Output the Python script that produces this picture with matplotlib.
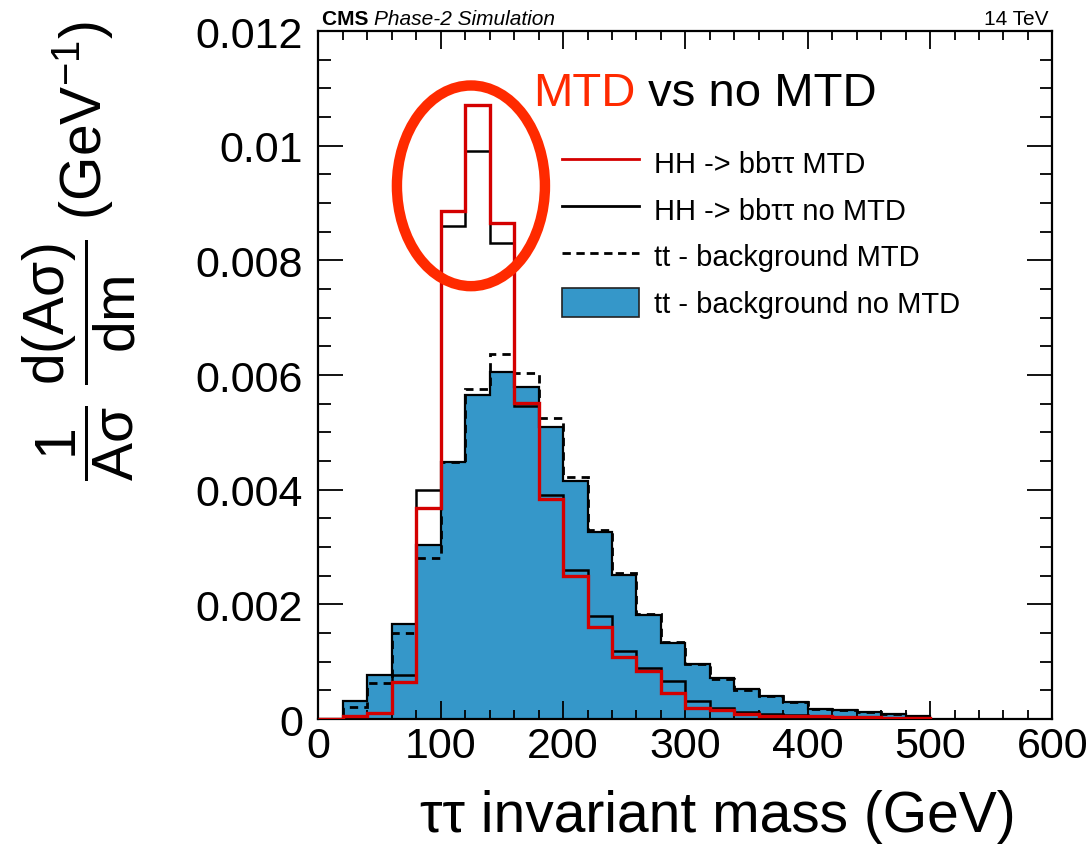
import numpy as np
import matplotlib
matplotlib.use("Agg")
import matplotlib.pyplot as plt
from matplotlib.lines import Line2D
from matplotlib.patches import Patch, Ellipse
from matplotlib.ticker import MultipleLocator, FuncFormatter

plt.rcParams['font.family'] = ['Liberation Sans', 'DejaVu Sans']
plt.rcParams['mathtext.fontset'] = 'custom'
plt.rcParams['mathtext.rm'] = 'Liberation Sans'
plt.rcParams['mathtext.it'] = 'Liberation Sans:italic'
plt.rcParams['mathtext.bf'] = 'Liberation Sans:bold'

# bin edges of the tau-tau invariant mass (GeV), 20 GeV bins
mass_edges = [0, 20, 40, 60, 80, 100, 120, 140, 160, 180, 200, 220, 240, 260,
              280, 300, 320, 340, 360, 380, 400, 420, 440, 460, 480, 500]

# normalised distributions
hh_mtd = [0, 0.00005, 0.00010, 0.00064, 0.00368, 0.00886, 0.01071, 0.00865,
          0.00552, 0.00383, 0.00250, 0.00161, 0.00109, 0.00083, 0.00046,
          0.00020, 0.00015, 0.00009, 0.00006, 0.00006, 0.00005, 0.00004,
          0.00003, 0.00002, 0.00001]
hh_nomtd = [0, 0.00006, 0.00011, 0.00076, 0.00399, 0.00860, 0.00991, 0.00831,
            0.00546, 0.00391, 0.00260, 0.00179, 0.00119, 0.00089, 0.00066,
            0.00031, 0.00020, 0.00012, 0.00009, 0.00007, 0.00005, 0.00004,
            0.00003, 0.00002, 0.00001]
tt_mtd = [0, 0.00021, 0.00062, 0.00150, 0.00281, 0.00448, 0.00576, 0.00637,
          0.00603, 0.00525, 0.00422, 0.00329, 0.00254, 0.00184, 0.00134,
          0.00096, 0.00069, 0.00051, 0.00041, 0.00029, 0.00018, 0.00015,
          0.00012, 0.00009, 0.00005]
tt_nomtd = [0, 0.00031, 0.00076, 0.00166, 0.00303, 0.00448, 0.00565, 0.00606,
            0.00579, 0.00510, 0.00416, 0.00326, 0.00252, 0.00182, 0.00133,
            0.00096, 0.00072, 0.00052, 0.00041, 0.00030, 0.00018, 0.00015,
            0.00012, 0.00009, 0.00005]

legend_labels = ['HH -> bb\u03c4\u03c4 MTD', 'HH -> bb\u03c4\u03c4 no MTD',
                 'tt - background MTD', 'tt - background no MTD']

blue = '#3597c9'
red = '#d40000'
hl_red = '#ff2a00'

W, H = 1090, 845
fig = plt.figure(figsize=(10.9, 8.45), dpi=100)
ax = fig.add_axes([0.2921, 0.1479, 0.6734, 0.8142])

# histograms
ax.stairs(tt_nomtd, mass_edges, fill=True, color=blue, zorder=1)
ax.stairs(tt_nomtd, mass_edges, color='black', lw=1.6, zorder=2)
ax.stairs(tt_mtd, mass_edges, color='black', lw=2.0, ls=(0, (3, 2.2)), zorder=3)
ax.stairs(hh_nomtd, mass_edges, color='black', lw=1.8, zorder=4)
ax.stairs(hh_mtd, mass_edges, color=red, lw=2.4, zorder=5)

ax.set_xlim(0, 600)
ax.set_ylim(0, 0.012)

ax.xaxis.set_major_locator(MultipleLocator(100))
ax.xaxis.set_minor_locator(MultipleLocator(20))
ax.yaxis.set_major_locator(MultipleLocator(0.002))
ax.yaxis.set_minor_locator(MultipleLocator(0.0005))
ax.yaxis.set_major_formatter(FuncFormatter(lambda v, p: '{:g}'.format(round(v, 6))))

ax.tick_params(axis='both', which='both', direction='in', top=True, right=True,
               width=1.3, labelsize=31)
ax.tick_params(axis='x', which='major', length=13, pad=5)
ax.tick_params(axis='x', which='minor', length=6.5)
ax.tick_params(axis='y', which='major', length=18, pad=11)
ax.tick_params(axis='y', which='minor', length=9)
for s in ax.spines.values():
    s.set_linewidth(1.6)

# highlight ellipse around the signal peak
ax.add_patch(Ellipse((124.7, 0.0093), 121, 0.00350, fill=False,
                     edgecolor=hl_red, lw=7.5, clip_on=False, zorder=6))

handles = [Line2D([], [], color=red, lw=2),
           Line2D([], [], color='black', lw=2),
           Line2D([], [], color='black', lw=2, ls=(0, (3, 2))),
           Patch(facecolor=blue, edgecolor='#222222', lw=1.2)]
fig.legend(handles, legend_labels, loc='upper left',
           bbox_to_anchor=(562 / W, (H - 148) / H), frameon=False,
           fontsize=21, handlelength=2.65, handleheight=1.2, handletextpad=0.5,
           labelspacing=0.55, borderpad=0, borderaxespad=0)

# axis titles
fig.text(718 / W, (H - 832) / H, '\u03c4\u03c4 invariant mass (GeV)',
         ha='center', va='baseline', fontsize=41)
fig.text(79 / W, (H - 251) / H,
         r'$\dfrac{1}{\mathrm{A\sigma}}\ \dfrac{\mathrm{d(A\sigma)}}{\mathrm{dm}}\ \mathrm{(GeV^{-1})}$',
         rotation=90, ha='center', va='center', fontsize=41)

# header
fig.canvas.draw()
cms = fig.text(322 / W, (H - 25) / H, 'CMS ', fontweight='bold', fontsize=15,
               ha='left', va='baseline')
fig.canvas.draw()
fig.text(cms.get_window_extent().x1 / W, (H - 25) / H, 'Phase-2 Simulation',
         style='italic', fontsize=15, ha='left', va='baseline')
fig.text(1048 / W, (H - 25) / H, '14 TeV', fontsize=15,
         ha='right', va='baseline')

# annotation
t1 = fig.text(533 / W, (H - 106) / H, 'MTD', color=hl_red, fontsize=34,
              ha='left', va='baseline')
fig.canvas.draw()
bb = t1.get_window_extent()
fig.text(bb.x1 / W, (H - 106) / H, ' vs no MTD', color='black',
         fontsize=34, ha='left', va='baseline')

fig.savefig('out.png', dpi=100)
